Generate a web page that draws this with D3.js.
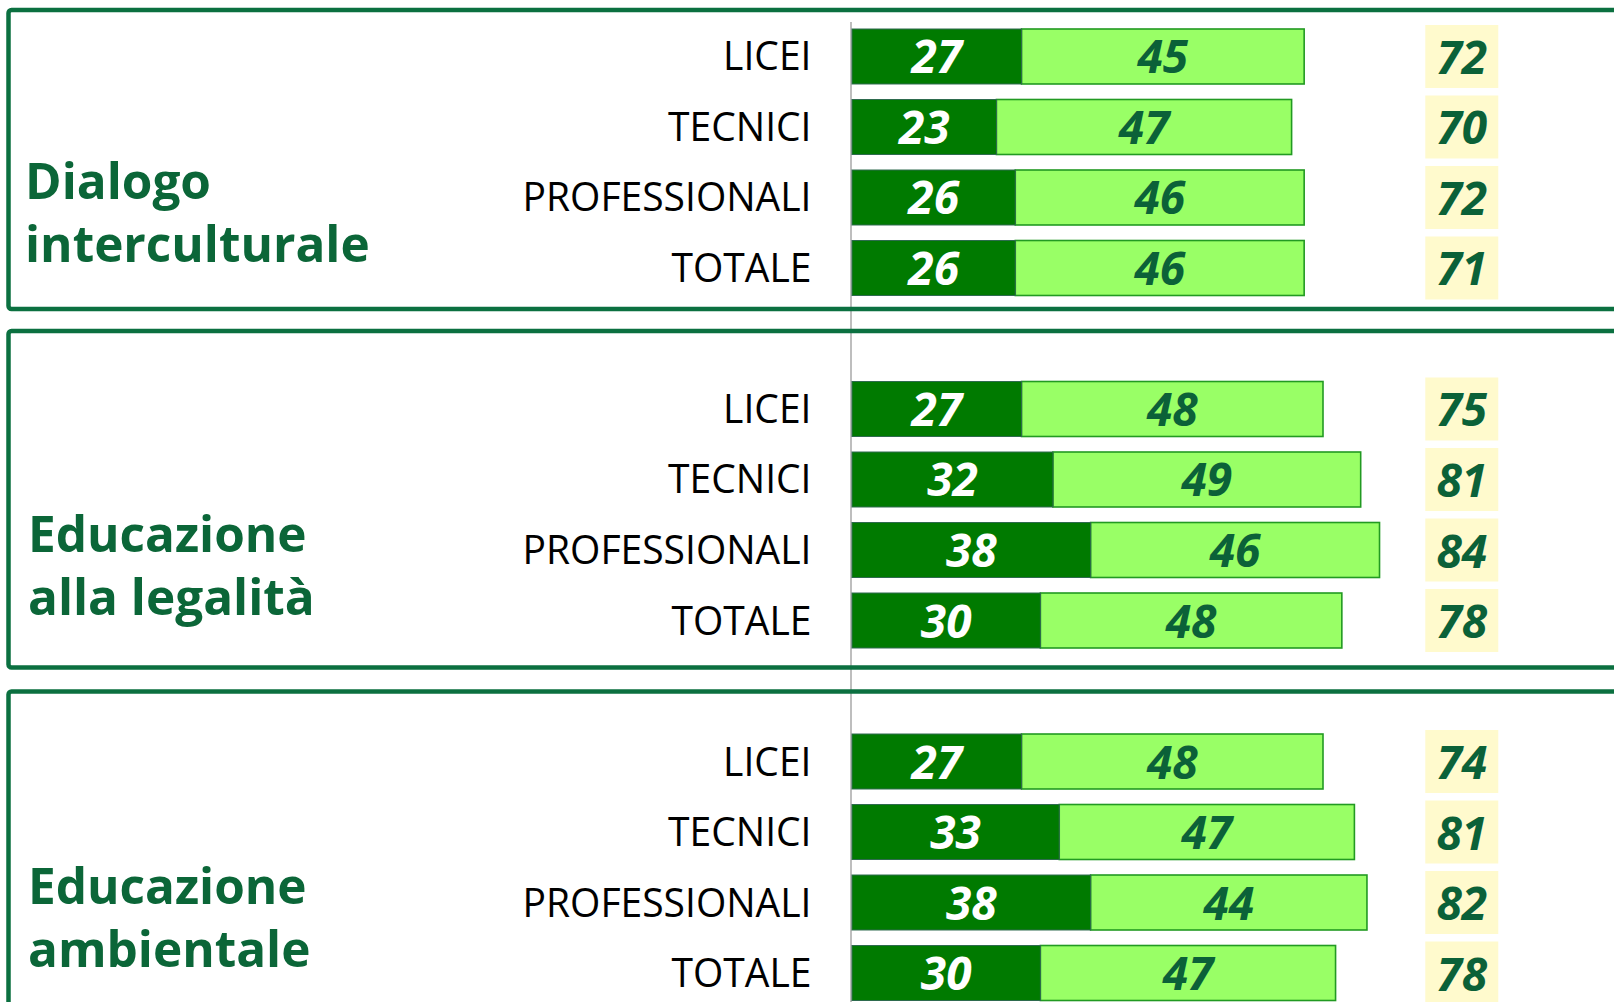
<!DOCTYPE html>
<html>
<head>
<meta charset="utf-8">
<script src="https://cdn.jsdelivr.net/npm/d3@7"></script>
<style>
  html, body { margin: 0; padding: 0; background: #ffffff; overflow: hidden; }
  svg { display: block; }
</style>
</head>
<body>
<svg id="chart" width="1614" height="1002"></svg>
<script>
// ---------- DATA ----------
const groups = ["Dialogo interculturale", "Educazione alla legalità", "Educazione ambientale"];
const groupTitleLines = [["Dialogo", "interculturale"], ["Educazione", "alla legalità"], ["Educazione", "ambientale"]];
const categories = ["LICEI", "TECNICI", "PROFESSIONALI", "TOTALE"];

// dark segment ("molto") values per group
const seriesDark = [
  [27, 23, 26, 26],
  [27, 32, 38, 30],
  [27, 33, 38, 30]
];
// light segment ("abbastanza") values per group
const seriesLight = [
  [45, 47, 46, 46],
  [48, 49, 46, 48],
  [48, 47, 44, 47]
];
// totals shown in the yellow boxes
const totals = [
  [72, 70, 72, 71],
  [75, 81, 84, 78],
  [74, 81, 82, 78]
];

// ---------- STYLE ----------
const C = {
  dark: "#007A00",
  darkStroke: "#2E6B4E",
  light: "#99FF66",
  lightStroke: "#229A22",
  numDark: "#0B6138",
  frame: "#0B7040",
  title: "#0B6638",
  axis: "#A8A8A8",
  totalBox: "#FFFACD"
};

// ---------- BUILD ROWS ----------
const slots = [];
const rows = [];
groups.forEach((g, gi) => {
  if (gi > 0) slots.push("gap" + gi);
  categories.forEach((c, ci) => {
    const key = gi + "|" + c;
    slots.push(key);
    rows.push({ key, gi, ci, cat: c, dark: seriesDark[gi][ci], light: seriesLight[gi][ci], total: totals[gi][ci] });
  });
});

const svg = d3.select("#chart");

const y = d3.scaleBand()
  .domain(slots)
  .range([29, 1000.5])
  .paddingInner(0.22)
  .paddingOuter(0);

const x = d3.scaleLinear().domain([0, 100]).range([852, 1480]);
const totalCol = x(97.1);

const yc = k => y(k) + y.bandwidth() / 2;

// ---------- FRAMES ----------
const frameExt = groups.map((g, gi) => {
  const first = yc(gi + "|" + categories[0]);
  const last = yc(gi + "|" + categories[categories.length - 1]);
  const topOff = [46.5, 78, 70][gi];
  const botOff = [41, 47, 80][gi];
  return { top: first - topOff, bottom: last + botOff, mid: (first + last) / 2 };
});

// vertical axis line (behind frames)
svg.append("line")
  .attr("x1", x(0) - 1).attr("x2", x(0) - 1)
  .attr("y1", 22).attr("y2", 1002)
  .attr("stroke", C.axis).attr("stroke-width", 1.5);

svg.append("g").selectAll("rect")
  .data(frameExt)
  .join("rect")
  .attr("x", 8.5)
  .attr("y", d => d.top)
  .attr("width", 1700)
  .attr("height", d => d.bottom - d.top)
  .attr("rx", 3)
  .attr("fill", "none")
  .attr("stroke", C.frame)
  .attr("stroke-width", 4.5);

// ---------- GROUP TITLES ----------
const titles = svg.append("g");
frameExt.forEach((f, gi) => {
  const tx = gi === 0 ? 25 : 28;
  titles.append("text")
    .attr("x", tx)
    .attr("y", f.mid + 37)
    .attr("font-family", "'Open Sans', sans-serif")
    .attr("font-weight", 700)
    .attr("font-size", 49.5)
    .attr("fill", C.title)
    .selectAll("tspan")
    .data(groupTitleLines[gi])
    .join("tspan")
    .attr("x", tx)
    .attr("dy", (d, i) => i === 0 ? 0 : 63)
    .text(d => d);
});

// ---------- CATEGORY LABELS ----------
svg.append("g").selectAll("text")
  .data(rows)
  .join("text")
  .attr("transform", d => `translate(${811.5},${yc(d.key) + 14}) scale(0.975,1)`)
  .attr("text-anchor", "end")
  .attr("font-family", "'Open Sans', sans-serif")
  .attr("font-size", 40)
  .attr("fill", "#000")
  .text(d => d.cat);

// ---------- BARS ----------
const bars = svg.append("g");
bars.selectAll("rect.light")
  .data(rows)
  .join("rect")
  .attr("class", "light")
  .attr("x", d => x(d.dark))
  .attr("y", d => y(d.key))
  .attr("width", d => x(d.dark + d.light) - x(d.dark))
  .attr("height", y.bandwidth())
  .attr("fill", C.light)
  .attr("stroke", C.lightStroke)
  .attr("stroke-width", 1.6);

bars.selectAll("rect.dark")
  .data(rows)
  .join("rect")
  .attr("class", "dark")
  .attr("x", x(0))
  .attr("y", d => y(d.key))
  .attr("width", d => x(d.dark) - x(0))
  .attr("height", y.bandwidth())
  .attr("fill", C.dark)
  .attr("stroke", C.darkStroke)
  .attr("stroke-width", 1);

// labels inside bars
const numFont = "'Open Sans', sans-serif";
bars.selectAll("text.dl")
  .data(rows)
  .join("text")
  .attr("class", "dl")
  .attr("x", d => (x(0) + x(d.dark)) / 2)
  .attr("y", d => yc(d.key) + 17)
  .attr("text-anchor", "middle")
  .attr("font-family", numFont)
  .attr("font-weight", 700)
  .attr("font-style", "italic")
  .attr("font-size", 46)
  .attr("fill", "#fff")
  .text(d => d.dark);

bars.selectAll("text.ll")
  .data(rows)
  .join("text")
  .attr("class", "ll")
  .attr("x", d => (x(d.dark) + x(d.dark + d.light)) / 2)
  .attr("y", d => yc(d.key) + 17)
  .attr("text-anchor", "middle")
  .attr("font-family", numFont)
  .attr("font-weight", 700)
  .attr("font-style", "italic")
  .attr("font-size", 46)
  .attr("fill", C.numDark)
  .text(d => d.light);

// ---------- TOTALS ----------
const tot = svg.append("g");
tot.selectAll("rect")
  .data(rows)
  .join("rect")
  .attr("x", totalCol - 36.5)
  .attr("y", d => yc(d.key) - 31.5)
  .attr("width", 73)
  .attr("height", 63)
  .attr("fill", C.totalBox);

tot.selectAll("text")
  .data(rows)
  .join("text")
  .attr("x", totalCol)
  .attr("y", d => yc(d.key) + 17.5)
  .attr("text-anchor", "middle")
  .attr("font-family", numFont)
  .attr("font-weight", 700)
  .attr("font-style", "italic")
  .attr("font-size", 46)
  .attr("fill", C.numDark)
  .text(d => d.total);
</script>
</body>
</html>
